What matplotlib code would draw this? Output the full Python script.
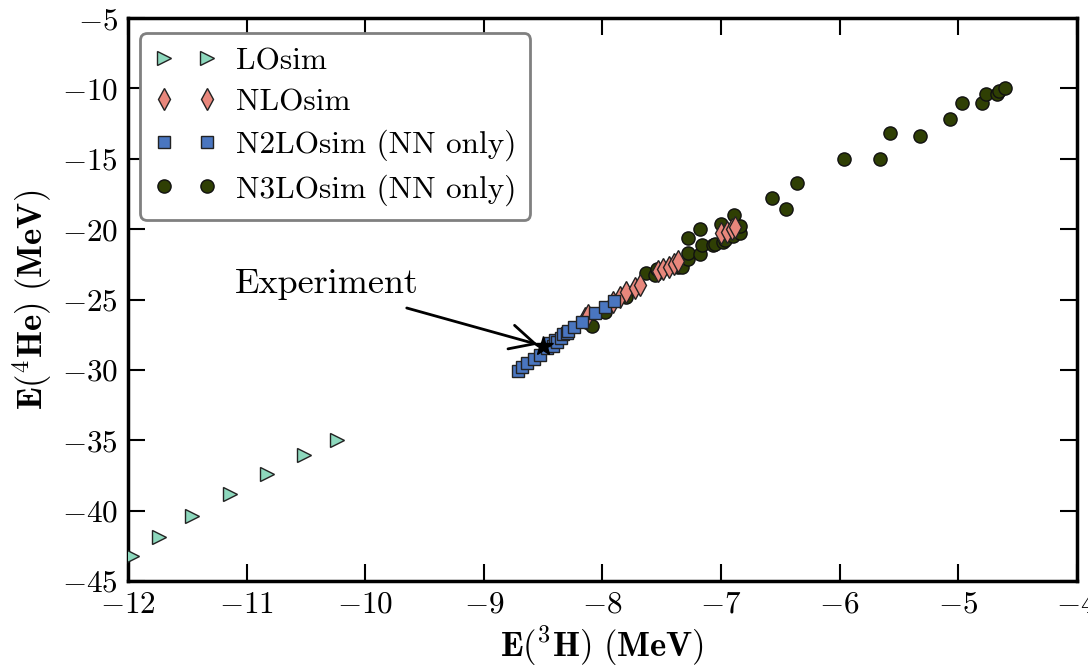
import matplotlib.pyplot as plt

plt.rcParams['font.family'] = 'serif'
plt.rcParams['font.serif'] = ['cmr10']
plt.rcParams['mathtext.fontset'] = 'cm'
plt.rcParams['axes.formatter.use_mathtext'] = True
plt.rcParams['font.size'] = 22

# LO
lo_x = [-11.97, -11.74, -11.46, -11.14, -10.83, -10.52, -10.24]
lo_y = [-43.2, -41.9, -40.4, -38.84, -37.38, -36.05, -34.98]

# NLO
nlo_x = [-8.15, -8.12, -7.91, -7.85, -7.80, -7.73, -7.68, -7.53, -7.49,
         -7.44, -7.40, -7.36, -7.00, -6.95, -6.91, -6.88]
nlo_y = [-26.34, -26.1, -25.15, -24.8, -24.44, -24.2, -23.97, -23.0, -22.86,
         -22.67, -22.48, -22.24, -20.3, -20.2, -20.0, -19.87]

# N2LO (NN only)
n2lo_x = [-8.71, -8.68, -8.64, -8.58, -8.53, -8.47, -8.44, -8.42, -8.40,
          -8.38, -8.35, -8.33, -8.30, -8.29, -8.24, -8.175, -8.06, -7.98, -7.90]
n2lo_y = [-30.06, -29.77, -29.53, -29.23, -28.94, -28.47, -28.1, -28.3, -27.88,
          -28.0, -27.7, -27.45, -27.4, -27.22, -26.93, -26.58, -25.98, -25.51, -25.09]

# N3LO (NN only)
n3lo_x = [-8.09, -7.98, -7.80, -7.80, -7.63, -7.56, -7.54, -7.36, -7.33, -7.28,
          -7.275, -7.18, -7.16, -7.07, -7.05, -6.98, -6.97, -6.90, -6.845, -6.84,
          -6.89, -7.00, -7.18, -7.28,
          -6.57, -6.455, -6.36, -5.96, -5.66, -5.58, -5.32, -5.07, -4.97, -4.805,
          -4.77, -4.675, -4.66, -4.605]
n3lo_y = [-26.88, -25.87, -24.63, -24.8, -23.14, -23.26, -22.8, -22.67, -22.67, -22.15,
          -21.7, -21.77, -21.1, -21.13, -21.06, -20.9, -20.77, -20.5, -20.3, -19.78,
          -19.0, -19.6, -20.0, -20.6,
          -17.81, -18.55, -16.72, -15.0, -15.0, -13.15, -13.36, -12.15, -11.06, -11.04,
          -10.42, -10.40, -10.19, -9.97]

exp_x, exp_y = -8.5, -28.3

fig = plt.figure(figsize=(10.88, 6.69), dpi=100)
ax = fig.add_axes([0.1176, 0.1315, 0.8723, 0.8415])

ax.plot(lo_x, lo_y, '>', ls='none', color='#8dd8bd', mec='#222222', mew=1,
        ms=10, label='LOsim', zorder=3)
ax.plot(nlo_x, nlo_y, 'd', ls='none', color='#e8877c', mec='#222222', mew=1,
        ms=11, label='NLOsim', zorder=4)
ax.plot(n2lo_x, n2lo_y, 's', ls='none', color='#4a76c0', mec='#222222', mew=1,
        ms=9, label='N2LOsim (NN only)', zorder=5)
ax.plot(n3lo_x, n3lo_y, 'o', ls='none', color='#2f3f04', mec='#111111', mew=1,
        ms=9.5, label='N3LOsim (NN only)', zorder=2)

ax.plot([exp_x], [exp_y], '*', color='black', ms=15, zorder=6)
ax.annotate('', xy=(exp_x, exp_y), xytext=(-9.65, -25.6),
            arrowprops=dict(arrowstyle='->,head_length=0.8,head_width=0.4',
                            color='black', lw=2, shrinkA=0, shrinkB=4))
ax.text(-11.1, -24.5, 'Experiment', fontsize=26)

ax.set_xlim(-12, -4)
ax.set_ylim(-45, -5)
ax.set_xticks(range(-12, -3))
ax.set_yticks(range(-45, -4, 5))

ax.tick_params(direction='in', length=12, width=1.5, top=True, right=True,
               labelsize=22.5, pad=7)
for s in ax.spines.values():
    s.set_linewidth(2.5)

ax.set_xlabel(r'$\mathbf{E(^3H)\ (MeV)}$', fontsize=25, labelpad=4)
ax.set_ylabel(r'$\mathbf{E(^4He)\ (MeV)}$', fontsize=25, labelpad=6)

leg = ax.legend(loc='upper left', numpoints=2, fontsize=22.5, fancybox=True,
                framealpha=1, borderpad=0.45, labelspacing=0.42,
                handletextpad=0.6, handlelength=2.0, borderaxespad=0,
                bbox_to_anchor=(0.013, 0.973))
leg.get_frame().set_edgecolor('#808080')
leg.get_frame().set_linewidth(2)

fig.savefig('out.png', dpi=100)
